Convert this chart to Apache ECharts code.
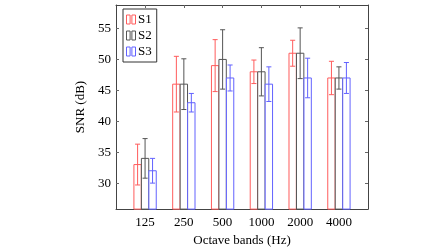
<!DOCTYPE html>
<html>
<head>
<meta charset="utf-8">
<script src="https://cdn.jsdelivr.net/npm/echarts@6/dist/echarts.min.js"></script>
<style>
  html, body { margin: 0; padding: 0; background: #fff; }
  #chart { width: 448px; height: 252px; }
</style>
</head>
<body>
<div id="chart"></div>
<script>
// octave bands and SNR values
const bands = ['125', '250', '500', '1000', '2000', '4000'];
const s1 = [33, 46, 49, 48, 51, 47];
const s1Err = [3.3, 4.5, 4.2, 1.9, 2.1, 2.7];
const s2 = [34, 46, 50, 48, 51, 47];
const s2Err = [3.2, 4.1, 4.8, 3.9, 4.1, 1.8];
const s3 = [32, 43, 47, 46, 47, 47];
const s3Err = [2.0, 1.5, 2.1, 2.8, 3.2, 2.5];
const yTicks = [30, 35, 40, 45, 50, 55];

const Y_MIN = 25.8;
const Y_MAX = 58.8;
const FONT = '"Liberation Serif", "DejaVu Serif", serif';

const barItem = (offset, color) => (params, api) => {
  const x = api.value(0) + offset;
  const y = api.value(1);
  const e = api.value(2);
  const hw = 0.095; // half bar width, axis units
  const cw = 0.065; // half cap width
  const tl = api.coord([x - hw, y]);
  const br = api.coord([x + hw, Y_MIN]);
  const top = api.coord([x, y + e]);
  const bot = api.coord([x, y - e]);
  const c1 = api.coord([x - cw, y]);
  const c2 = api.coord([x + cw, y]);
  const line = { stroke: color, lineWidth: 1, fill: null };
  return {
    type: 'group',
    children: [
      { type: 'rect', shape: { x: tl[0], y: tl[1], width: br[0] - tl[0], height: br[1] - tl[1] },
        style: { fill: '#fff', stroke: color, lineWidth: 1 } },
      { type: 'line', shape: { x1: top[0], y1: top[1], x2: bot[0], y2: bot[1] }, style: line },
      { type: 'line', shape: { x1: c1[0], y1: top[1], x2: c2[0], y2: top[1] }, style: line },
      { type: 'line', shape: { x1: c1[0], y1: bot[1], x2: c2[0], y2: bot[1] }, style: line },
    ],
  };
};

const mkSeries = (name, vals, errs, offset, color) => ({
  name,
  type: 'custom',
  xAxisIndex: 0,
  yAxisIndex: 0,
  renderItem: barItem(offset, color),
  itemStyle: { color },
  data: vals.map((v, i) => [i, v, errs[i]]),
});

const legendIcon = 'path://M0,0H4V10H0Z M6,0H10V10H6Z';
const legendItem = (name, color) => ({
  name,
  icon: legendIcon,
  itemStyle: { color: '#fff', borderColor: color, borderWidth: 1 },
});

const RED = '#ff5c5c';
const GRAY = '#555555';
const BLUE = '#6262ff';

const axisLine = { show: true, onZero: false, lineStyle: { color: '#444', width: 1 } };
const tick = { inside: true, length: 3, lineStyle: { color: '#666' } };

const chart = echarts.init(document.getElementById('chart'));
chart.setOption({
  animation: false,
  textStyle: { fontFamily: FONT },
  grid: { left: 116, top: 5, width: 252, height: 210 },
  legend: {
    orient: 'vertical',
    left: 123,
    top: 9,
    padding: [4, 5, 4, 3],
    itemGap: 3,
    itemWidth: 10,
    itemHeight: 9,
    backgroundColor: '#fff',
    borderColor: '#333',
    borderWidth: 1,
    borderRadius: 0,
    textStyle: { fontFamily: FONT, fontSize: 13, color: '#000', padding: [0, 0, 0, -3], lineHeight: 13 },
    data: [legendItem('S1', RED), legendItem('S2', GRAY), legendItem('S3', BLUE)],
  },
  xAxis: [
    {
      type: 'value',
      min: -0.75,
      max: 5.75,
      name: 'Octave bands (Hz)',
      nameLocation: 'middle',
      nameGap: 21,
      nameTextStyle: { fontFamily: FONT, fontSize: 13, color: '#000' },
      axisLine,
      splitLine: { show: false },
      axisTick: Object.assign({ customValues: [0, 1, 2, 3, 4, 5] }, tick),
      axisLabel: {
        customValues: [0, 1, 2, 3, 4, 5],
        formatter: (v) => bands[Math.round(v)],
        fontFamily: FONT, fontSize: 13, color: '#000', margin: 7,
      },
    },
    {
      type: 'value',
      position: 'top',
      min: -0.75,
      max: 5.75,
      axisLine,
      splitLine: { show: false },
      axisTick: Object.assign({ customValues: [0, 1, 2, 3, 4, 5] }, tick),
      axisLabel: { show: false },
    },
  ],
  yAxis: [
    {
      type: 'value',
      min: Y_MIN,
      max: Y_MAX,
      name: 'SNR (dB)',
      nameLocation: 'middle',
      nameGap: 21,
      nameTextStyle: { fontFamily: FONT, fontSize: 13, color: '#000' },
      axisLine,
      splitLine: { show: false },
      axisTick: Object.assign({ customValues: yTicks }, tick),
      axisLabel: { customValues: yTicks, fontFamily: FONT, fontSize: 13, color: '#000', margin: 5 },
    },
    {
      type: 'value',
      position: 'right',
      min: Y_MIN,
      max: Y_MAX,
      axisLine,
      splitLine: { show: false },
      axisTick: Object.assign({ customValues: yTicks }, tick),
      axisLabel: { show: false },
    },
  ],
  series: [
    mkSeries('S1', s1, s1Err, -0.193, RED),
    mkSeries('S2', s2, s2Err, 0, GRAY),
    mkSeries('S3', s3, s3Err, 0.193, BLUE),
  ],
});
</script>
</body>
</html>
